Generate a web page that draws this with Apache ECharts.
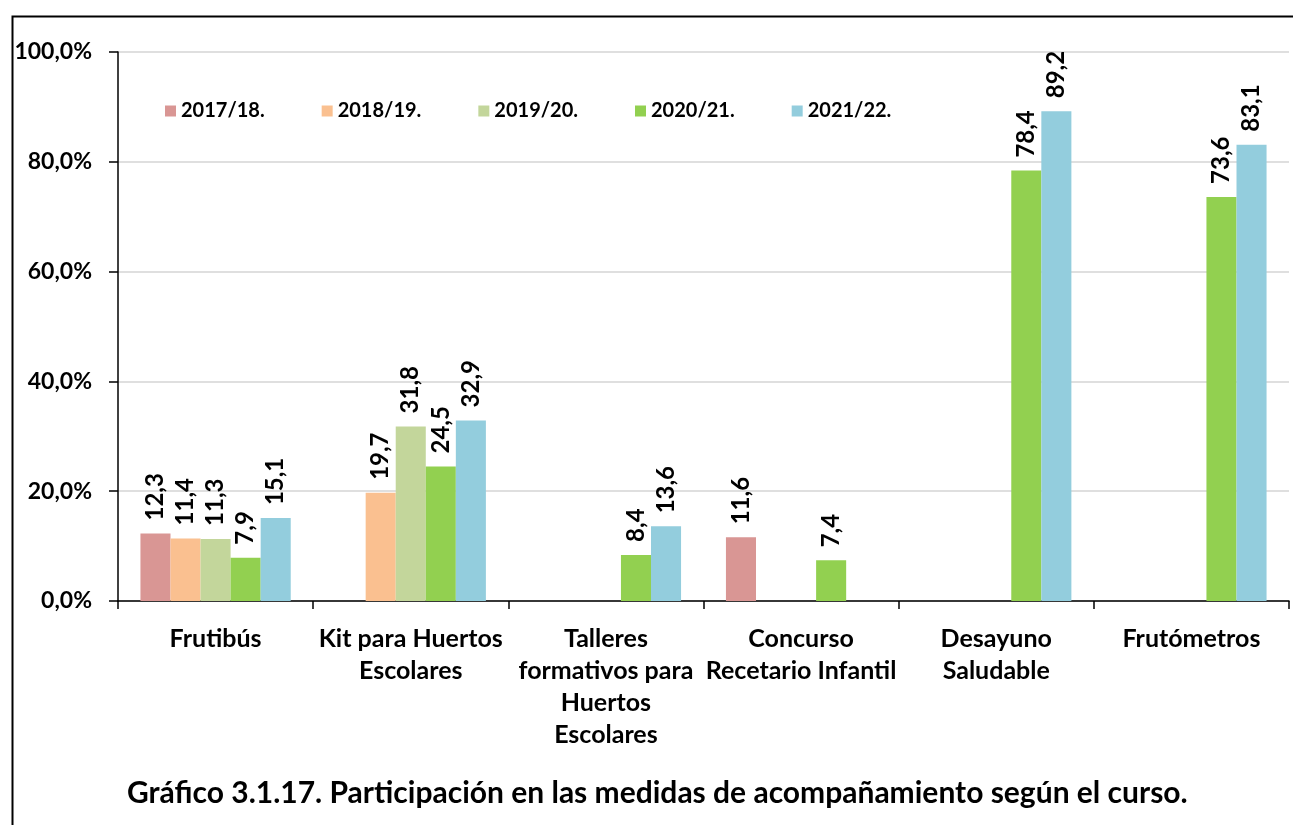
<!DOCTYPE html>
<html>
<head>
<meta charset="utf-8">
<script src="https://cdn.jsdelivr.net/npm/echarts@6/dist/echarts.min.js"></script>
<style>
  html, body { margin: 0; padding: 0; background: #fff; }
  #chart { width: 1293px; height: 825px; }
</style>
</head>
<body>
<div id="chart"></div>
<script>
// categories and values (percent)
const categories = [
  'Frutibús',
  'Kit para Huertos\nEscolares',
  'Talleres\nformativos para\nHuertos\nEscolares',
  'Concurso\nRecetario Infantil',
  'Desayuno\nSaludable',
  'Frutómetros'
];
const seriesNames = ['2017/18.', '2018/19.', '2019/20.', '2020/21.', '2021/22.'];
const values1718 = [12.3, null, null, 11.6, null, null];
const values1819 = [11.4, 19.7, null, null, null, null];
const values1920 = [11.3, 31.8, null, null, null, null];
const values2021 = [7.9, 24.5, 8.4, 7.4, 78.4, 73.6];
const values2122 = [15.1, 32.9, 13.6, null, 89.2, 83.1];
const seriesColors = ['#D99694', '#FAC090', '#C3D69B', '#92D050', '#93CDDD'];
const yTicks = [0, 20, 40, 60, 80, 100];

const titleText = 'Gráfico 3.1.17. Participación en las medidas de acompañamiento según el curso.';
const font = 'Lato, "Open Sans", sans-serif';

const comma = v => v.toFixed(1).replace('.', ',');

const chart = echarts.init(document.getElementById('chart'));

const allValues = [values1718, values1819, values1920, values2021, values2122];

const series = seriesNames.map((name, i) => ({
  name,
  type: 'bar',
  data: allValues[i],
  barGap: 0,
  barCategoryGap: '23%',
  itemStyle: { color: seriesColors[i] },
  label: {
    show: true,
    position: 'top',
    rotate: 90,
    align: 'left',
    verticalAlign: 'middle',
    distance: 13,
    color: '#000',
    fontFamily: font,
    fontWeight: 'bold',
    fontSize: 24,
    formatter: p => (p.value == null ? '' : comma(p.value))
  },
  emphasis: { disabled: true }
}));

chart.setOption({
  animation: false,
  backgroundColor: '#fff',
  textStyle: { fontFamily: font },
  title: {
    text: titleText,
    left: 122,
    top: 773,
    textStyle: { fontFamily: font, fontWeight: 'bold', fontSize: 30, color: '#000' }
  },
  graphic: [{
    type: 'rect',
    left: 10,
    top: 14,
    shape: { width: 1400, height: 900 },
    style: { fill: 'none', stroke: '#000', lineWidth: 2 },
    z: -10,
    silent: true
  }],
  legend: {
    left: 160,
    top: 96,
    itemWidth: 11,
    itemHeight: 11,
    itemGap: 57,
    icon: 'rect',
    textStyle: { fontFamily: font, fontWeight: 'bold', fontSize: 20, color: '#000' },
    data: seriesNames
  },
  grid: { left: 118, right: 4, top: 52, bottom: 224, containLabel: false },
  xAxis: {
    type: 'category',
    data: categories,
    axisLine: { lineStyle: { color: '#000', width: 1.5 } },
    axisTick: { show: true, interval: 0, length: 8, lineStyle: { color: '#000', width: 1.5 } },
    axisLabel: {
      interval: 0,
      margin: 22,
      color: '#000',
      fontFamily: font,
      fontWeight: 'bold',
      fontSize: 25,
      lineHeight: 32
    }
  },
  yAxis: {
    type: 'value',
    min: yTicks[0],
    max: yTicks[yTicks.length - 1],
    interval: 20,
    axisLine: { show: true, lineStyle: { color: '#000', width: 1.5 } },
    axisTick: { show: true, length: 9, lineStyle: { color: '#000', width: 1.5 } },
    splitLine: { show: true, lineStyle: { color: '#d4d4d4', width: 1.5 } },
    axisLabel: {
      margin: 26,
      color: '#000',
      fontFamily: font,
      fontWeight: 'bold',
      fontSize: 23,
      formatter: v => comma(v) + '%'
    }
  },
  series
});
</script>
</body>
</html>
